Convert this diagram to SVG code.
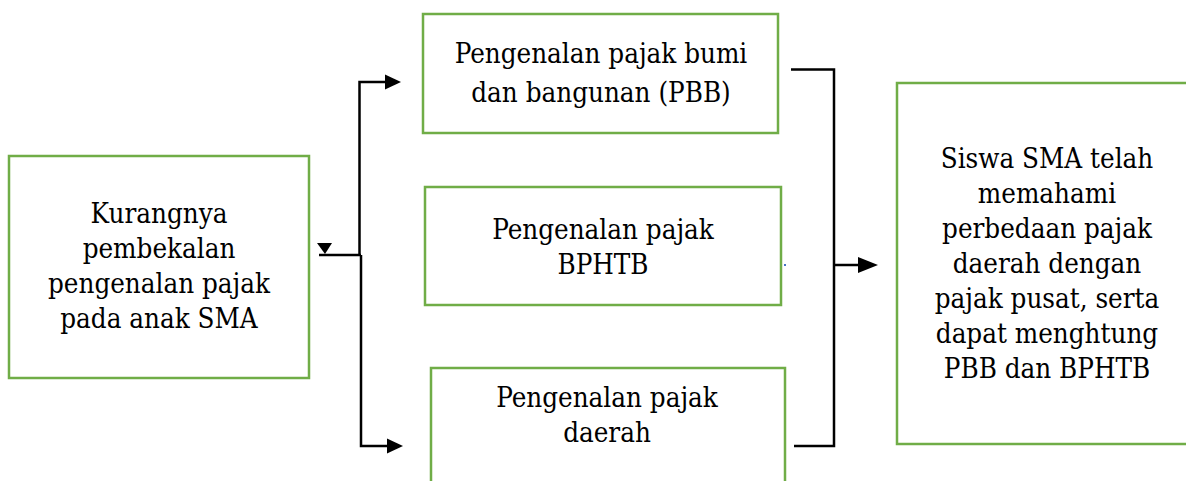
<svg xmlns="http://www.w3.org/2000/svg" width="1186" height="481" viewBox="0 0 1186 481">
<style>
.box{fill:#fff;stroke:#70AD47;stroke-width:2.5}
.t{font-family:"DejaVu Serif Condensed","DejaVu Serif","Liberation Serif",serif;font-stretch:condensed;font-size:27.5px;fill:#000;text-anchor:middle}
.c{fill:none;stroke:#000;stroke-width:2.5}
.h{fill:#000}
</style>
<rect width="1186" height="481" fill="#fff"/>
<g id="node-kurang">
<rect class="box" x="9" y="156" width="300" height="222"/>
<text class="t"><tspan x="159" y="223">Kurangnya</tspan><tspan x="159" y="258">pembekalan</tspan><tspan x="159" y="293">pengenalan pajak</tspan><tspan x="159" y="328">pada anak SMA</tspan></text>
</g>
<g id="node-pbb">
<rect class="box" x="423" y="14" width="355" height="119"/>
<text class="t"><tspan x="601" y="63">Pengenalan pajak bumi</tspan><tspan x="601" y="101.5">dan bangunan (PBB)</tspan></text>
</g>
<g id="node-bphtb">
<rect class="box" x="425" y="187" width="356" height="118"/>
<text class="t"><tspan x="603" y="238.5">Pengenalan pajak</tspan><tspan x="603" y="273.5">BPHTB</tspan></text>
</g>
<g id="node-daerah">
<rect class="box" x="431" y="368" width="354" height="130"/>
<text class="t"><tspan x="607" y="406.5">Pengenalan pajak</tspan><tspan x="607" y="441.5">daerah</tspan></text>
</g>
<g id="node-siswa">
<rect class="box" x="897" y="83" width="300" height="361"/>
<text class="t"><tspan x="1047" y="168">Siswa SMA telah</tspan><tspan x="1047" y="203">memahami</tspan><tspan x="1047" y="238">perbedaan pajak</tspan><tspan x="1047" y="273">daerah dengan</tspan><tspan x="1047" y="308">pajak pusat, serta</tspan><tspan x="1047" y="343">dapat menghtung</tspan><tspan x="1047" y="378">PBB dan BPHTB</tspan></text>
</g>
<g id="connectors">
<path class="c" d="M319 255 H361"/>
<polygon class="h" points="317,243 332,243 325,254"/>
<path class="c" d="M359.5 255 V82 H387"/>
<polygon class="h" points="385,74.5 401,82 385,89.5"/>
<path class="c" d="M361 255 V446 H389"/>
<polygon class="h" points="387,438.5 403,446 387,453.5"/>
<path class="c" d="M791 69.5 H834 V446 H794"/>
<path class="c" d="M833 265 H860"/>
<polygon class="h" points="858,257 878,265 858,273"/>
<rect x="784" y="264" width="2" height="2" fill="#4472C4"/>
</g>
</svg>
